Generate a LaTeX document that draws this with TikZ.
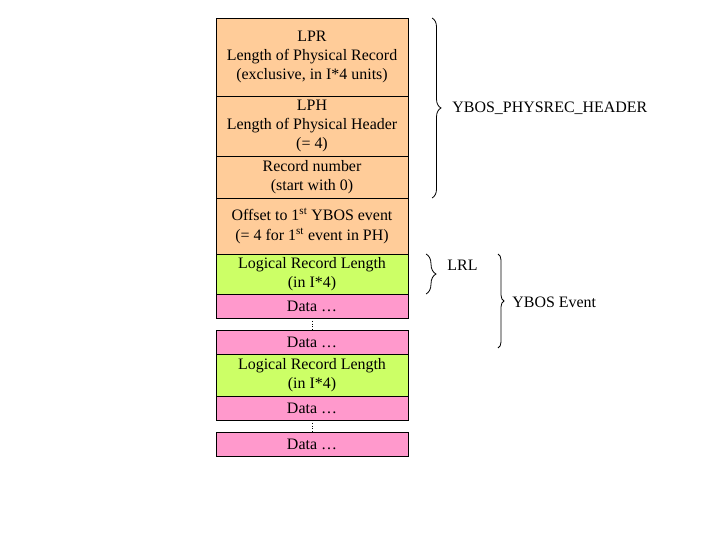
\documentclass[tikz,border=0pt]{standalone}
\usepackage{fontspec}
\setmainfont{Liberation Serif}
\usepackage{tikz}
\usetikzlibrary{positioning, calc, decorations.pathreplacing}
\definecolor{hdrorange}{HTML}{FFCC99}
\definecolor{lrlgreen}{HTML}{CCFF66}
\definecolor{datapink}{HTML}{FF99CC}
\tikzstyle{cell} = [rectangle, minimum width=192bp, inner sep=0pt, outer sep=0pt, align=center, draw=black, line width=0.8bp, font=\fontsize{16}{19.5}\selectfont]
\tikzstyle{header} = [cell, fill=hdrorange]
\tikzstyle{lrl} = [cell, fill=lrlgreen]
\tikzstyle{data} = [cell, fill=datapink, minimum height=24bp]
\tikzstyle{brace} = [decorate, line width=0.8bp]
\tikzstyle{bracelabel} = [anchor=west, inner sep=0pt, font=\fontsize{16}{19.5}\selectfont]

\begin{document}
\begin{tikzpicture}[x=1bp, y=-1bp]
    \useasboundingbox (0,0) rectangle (720,540);

    % Physical record header
    \node[header, minimum height=78bp, anchor=north] (lpr) at (312,18) {LPR\\Length of Physical Record\\(exclusive, in I*4 units)};
    \node[header, minimum height=60bp, below=0pt of lpr] (lph) {LPH\\Length of Physical Header\\(= 4)};
    \node[header, minimum height=42bp, below=0pt of lph] (recnum) {Record number\\ (start with 0)};
    \node[header, minimum height=56bp, below=0pt of recnum] (offset) {Offset to 1\textsuperscript{st} YBOS event\\(= 4 for 1\textsuperscript{st} event in PH)};

    % First event
    \node[lrl, minimum height=40bp, below=0pt of offset] (lrlA) {Logical Record Length\\(in I*4)};
    \node[data, below=0pt of lrlA] (dataA) {Data \dots};
    \node[data, below=12bp of dataA] (dataB) {Data \dots};

    % Next event
    \node[lrl, minimum height=42bp, below=0pt of dataB] (lrlB) {Logical Record Length\\(in I*4)};
    \node[data, below=0pt of lrlB] (dataC) {Data \dots};
    \node[data, below=12bp of dataC] (dataD) {Data \dots};

    % Gaps
    \draw[dotted, line width=0.8bp] (dataA) -- (dataB);
    \draw[dotted, line width=0.8bp] (dataC) -- (dataD);

    % Braces
    \coordinate (hdrtop) at ($(lpr.north east)+(24,0)$);
    \coordinate (hdrbot) at ($(recnum.south east)+(24,0)$);
    \draw[brace, decoration={brace, amplitude=9bp}] (hdrtop) -- node[bracelabel, xshift=20bp] (hdrlabel) {YBOS\_PHYSREC\_HEADER} (hdrbot);

    \coordinate (lrltop) at ($(lrlA.north east)+(18,0)$);
    \coordinate (lrlbot) at ($(lrlA.south east)+(18,0)$);
    \draw[brace, decoration={brace, amplitude=10bp}] (lrltop) -- node[bracelabel, xshift=21bp, yshift=9bp] (lrllabel) {LRL} (lrlbot);

    \coordinate (evtop) at ($(lrlA.north east)+(90,0)$);
    \coordinate (evbot) at ($(dataB.south east)+(90,-6)$);
    \draw[brace, decoration={brace, amplitude=6bp}] (evtop) -- node[bracelabel, xshift=14bp, yshift=-1bp] (evlabel) {YBOS Event} (evbot);

\end{tikzpicture}
\end{document}
